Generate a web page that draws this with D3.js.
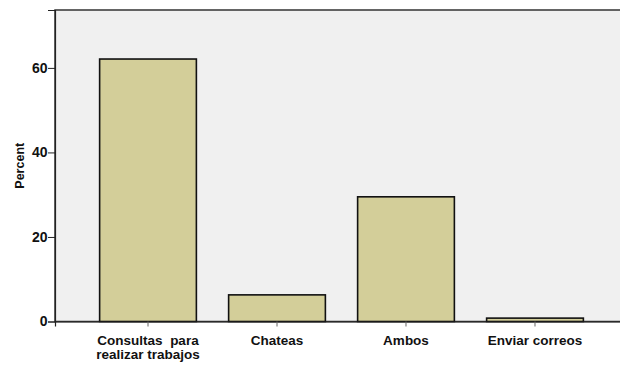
<!DOCTYPE html>
<html><head><meta charset="utf-8">
<script src="https://cdn.jsdelivr.net/npm/d3@7"></script>
<style>body{margin:0;background:#fff;} svg{display:block;}</style>
</head><body>
<svg id="c" width="620" height="367"></svg>
<script>
const categories = [["Consultas  para", "realizar trabajos"], ["Chateas"], ["Ambos"], ["Enviar correos"]];
const values = [62.1, 6.3, 29.5, 0.8];
const yTicks = [0, 20, 40, 60];
const yLabel = "Percent";

const svg = d3.select("#c");
const mLeft = 55, mTop = 10, mBottom = 321.5, mRight = 628;
const x = d3.scaleBand().domain(d3.range(categories.length)).range([mLeft, mRight]).paddingInner(0.25).paddingOuter(0.346);
const y = d3.scaleLinear().domain([0, 73.7]).range([mBottom, mTop]);
const font = "Liberation Sans, Arial, sans-serif";

svg.append("rect").attr("x", mLeft).attr("y", mTop).attr("width", 620 - mLeft + 5).attr("height", mBottom - mTop)
  .attr("fill", "#f0f0f0").attr("stroke", "#333").attr("stroke-width", 1.5);

svg.append("g").selectAll("rect").data(values).join("rect")
  .attr("x", (d, i) => x(i)).attr("width", x.bandwidth())
  .attr("y", d => y(d)).attr("height", d => y(0) - y(d))
  .attr("fill", "#d3ce99").attr("stroke", "#111").attr("stroke-width", 1.6);

const yAxis = svg.append("g").attr("transform", `translate(${mLeft},0)`)
  .call(d3.axisLeft(y).tickValues(yTicks).tickSize(7).tickFormat(d3.format("d")));
yAxis.select(".domain").attr("stroke", "#222").attr("stroke-width", 1.2);
yAxis.selectAll(".tick line").attr("stroke", "#222");
yAxis.selectAll("text").attr("font-family", font).attr("font-size", 14).attr("font-weight", "bold").attr("fill", "#111").attr("x", -7.5);

const xAxis = svg.append("g").attr("transform", `translate(0,${mBottom})`)
  .call(d3.axisBottom(x).tickSize(5).tickFormat(""));
xAxis.select(".domain").attr("stroke", "#222").attr("stroke-width", 1.2);
xAxis.selectAll(".tick line").attr("stroke", "#666");
xAxis.selectAll(".tick").each(function(d) {
  const t = d3.select(this).append("text").attr("fill", "#111")
    .attr("font-family", font).attr("font-size", 13.5).attr("font-weight", "bold")
    .attr("text-anchor", "middle").attr("xml:space", "preserve");
  categories[d].forEach((line, k) => t.append("tspan").attr("x", 0).attr("y", 23.5 + k * 13.5).text(line));
});

svg.append("text").attr("transform", `translate(24,${(mTop + mBottom) / 2}) rotate(-90)`)
  .attr("text-anchor", "middle").attr("font-family", font)
  .attr("font-size", 12.5).attr("font-weight", "bold").attr("fill", "#111").text(yLabel);
</script>
</body></html>
